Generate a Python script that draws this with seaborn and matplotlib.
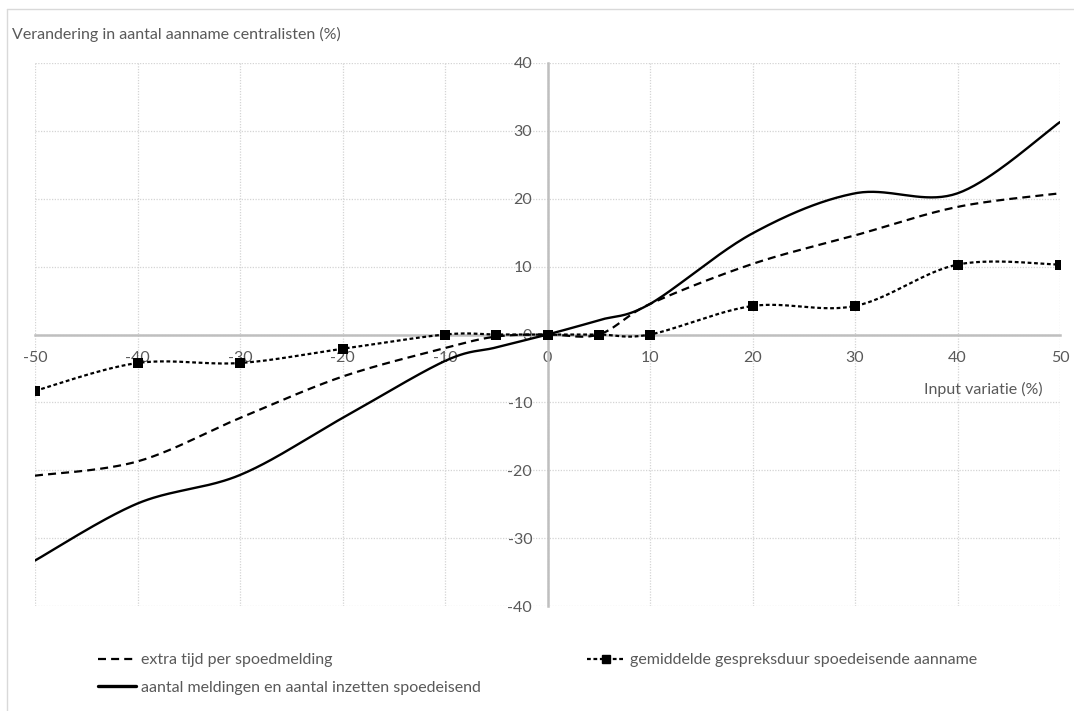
import numpy as np
import pandas as pd
import matplotlib
matplotlib.use("Agg")
import matplotlib.pyplot as plt
from matplotlib.lines import Line2D
import seaborn as sns

# ---------------- data ----------------
x_values = [-50, -40, -30, -20, -10, -5, 0, 5, 10, 20, 30, 40, 50]
extra_tijd = [-20.8, -18.7, -12.3, -6.2, -2.0, -0.3, 0.0, 0.0, 4.5, 10.4, 14.6, 18.8, 20.8]
gespreksduur = [-8.3, -4.2, -4.2, -2.1, 0.0, 0.0, 0.0, 0.0, 0.0, 4.2, 4.2, 10.3, 10.3]
meldingen = [-33.3, -24.9, -20.7, -12.3, -3.9, -1.9, 0.0, 2.1, 4.5, 14.9, 20.8, 20.8, 31.3]

series_names = [
    "extra tijd per spoedmelding",
    "gemiddelde gespreksduur spoedeisende aanname",
    "aantal meldingen en aantal inzetten spoedeisend",
]
x_ticks = [-50, -40, -30, -20, -10, 0, 10, 20, 30, 40, 50]
y_ticks = [-40, -30, -20, -10, 0, 10, 20, 30, 40]
y_title = "Verandering in aantal aanname centralisten (%)"
x_title = "Input variatie (%)"


def smooth(xs, ys, n=40):
    """Excel-style smoothed line (cubic Bezier through the data points)."""
    P = np.column_stack([xs, ys]).astype(float)
    Pe = np.vstack([P[0], P, P[-1]])
    t = np.linspace(0, 1, n)[:, None]
    out = []
    for i in range(len(P) - 1):
        p0, p3 = Pe[i + 1], Pe[i + 2]
        c1 = p0 + (Pe[i + 2] - Pe[i]) / 6.0
        c2 = p3 - (Pe[i + 3] - Pe[i + 1]) / 6.0
        seg = ((1 - t) ** 3) * p0 + 3 * ((1 - t) ** 2) * t * c1 + 3 * (1 - t) * t ** 2 * c2 + t ** 3 * p3
        out.append(seg if i == 0 else seg[1:])
    arr = np.vstack(out)
    return arr[:, 0], arr[:, 1]


sns.set_theme(style="white")
plt.rcParams["font.family"] = ["Lato", "DejaVu Sans"]
plt.rcParams["axes.unicode_minus"] = False

FS = 11.5
W, H = 1074, 711
fig = plt.figure(figsize=(W / 100, H / 100), dpi=100)
ax = fig.add_axes([35 / W, 1 - 606 / H, (1060 - 35) / W, (606 - 63) / H])

GRAY = "#595959"
dash_long = (0, (3.6, 2.3))
dash_short = (0, (1.7, 1.2))
LW = 1.6

sx, sy = smooth(x_values, extra_tijd)
sns.lineplot(x=sx, y=sy, ax=ax, color="black", lw=LW, linestyle=dash_long,
             sort=False, estimator=None, zorder=4)

gx, gy = smooth(x_values, gespreksduur)
sns.lineplot(x=gx, y=gy, ax=ax, color="black", lw=LW, linestyle=dash_short,
             sort=False, estimator=None, zorder=4)
sns.scatterplot(x=x_values, y=gespreksduur, ax=ax, color="black", marker="s",
                s=50, linewidth=0, zorder=5)

mx, my = smooth(x_values, meldingen)
sns.lineplot(x=mx, y=my, ax=ax, color="black", lw=1.7, linestyle="-",
             sort=False, estimator=None, zorder=4)

ax.set_xlim(-50, 50)
ax.set_ylim(-40, 40)
ax.set_xticks(x_ticks)
ax.set_yticks(y_ticks)
ax.set_xlabel("")
ax.set_ylabel("")

ax.set_axisbelow(True)
ax.grid(True, color="#d4d4d4", linestyle=(0, (1, 1.2)), linewidth=0.9)

for side in ["top", "right"]:
    ax.spines[side].set_visible(False)
for side in ["left", "bottom"]:
    ax.spines[side].set_position(("data", 0))
    ax.spines[side].set_color("#bfbfbf")
    ax.spines[side].set_linewidth(1.8)
    ax.spines[side].set_zorder(3)

ax.tick_params(axis="x", length=0, pad=12, labelsize=FS, labelcolor=GRAY)
ax.tick_params(axis="y", length=0, pad=11, labelsize=FS, labelcolor=GRAY)

fig.text(12 / W, 1 - 34 / H, y_title, ha="left", va="center", fontsize=FS, color=GRAY)
fig.text(1043 / W, 1 - 389 / H, x_title, ha="right", va="center", fontsize=FS, color=GRAY)

# chart border (light gray)
fig.add_artist(Line2D([7 / W, 7 / W], [0, 1 - 9 / H], transform=fig.transFigure, color="#d9d9d9", lw=1))
fig.add_artist(Line2D([7 / W, 1], [1 - 9 / H, 1 - 9 / H], transform=fig.transFigure, color="#d9d9d9", lw=1))

h_dash = Line2D([], [], color="black", lw=LW, linestyle=dash_long)
h_mark = Line2D([], [], color="black", lw=LW, linestyle=dash_short, marker="s", markersize=5.5)
h_solid = Line2D([], [], color="black", lw=2.4, linestyle="-")

leg_kw = dict(frameon=False, fontsize=FS, labelcolor=GRAY, handlelength=2.4,
              handletextpad=0.3, borderpad=0, borderaxespad=0, labelspacing=0.85,
              loc="upper left")
fig.legend(handles=[h_dash, h_solid], labels=[series_names[0], series_names[2]],
           bbox_to_anchor=(98 / W, 1 - 653 / H), **leg_kw)
fig.legend(handles=[h_mark], labels=[series_names[1]],
           bbox_to_anchor=(587 / W, 1 - 653 / H), numpoints=1, **leg_kw)

fig.savefig("out.png", dpi=100)
